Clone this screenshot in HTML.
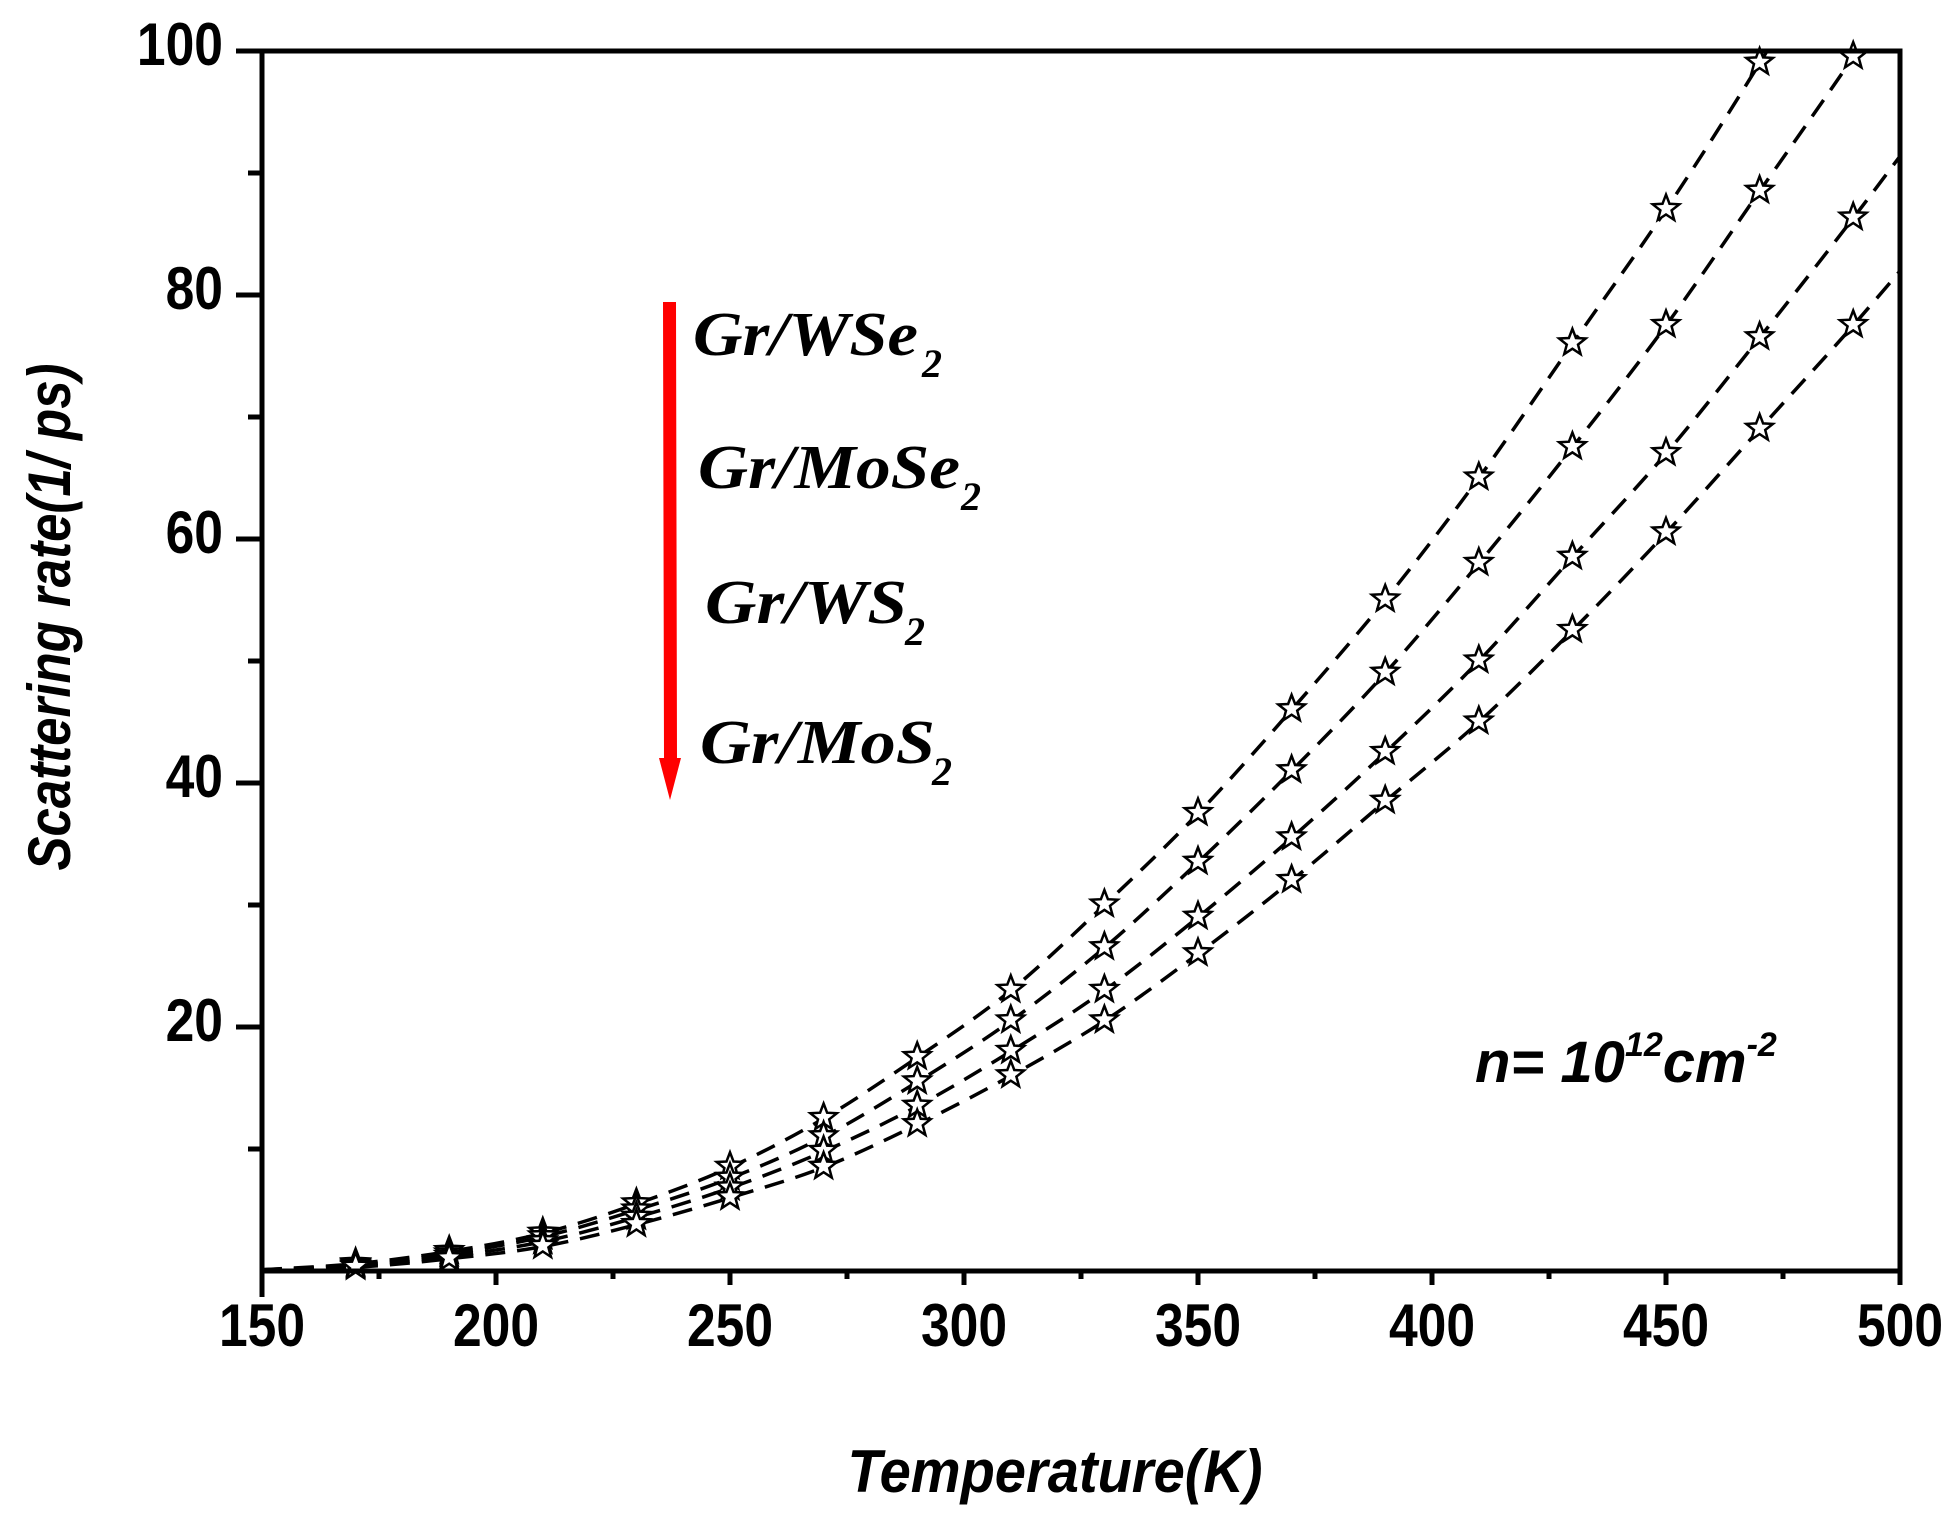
<!DOCTYPE html>
<html><head><meta charset="utf-8"><style>
html,body{margin:0;padding:0;background:#fff;}
svg{display:block;}
</style></head><body>
<svg id="s" width="1959" height="1529" viewBox="0 0 1959 1529" xmlns="http://www.w3.org/2000/svg">
<defs><clipPath id="cp"><rect x="262" y="51" width="1638" height="1220"/></clipPath></defs>
<g id="series" clip-path="url(#cp)"></g>
<g id="marks"></g>
<rect x="262" y="51" width="1638" height="1220" fill="none" stroke="#000" stroke-width="5"/>
<line x1="262" y1="1271" x2="262" y2="1297" stroke="#000" stroke-width="5"/>
<g id="axes" font-family="Liberation Sans, Arial, sans-serif" font-weight="bold" font-size="60"></g>
<text x="1055" y="1492" font-family="Liberation Sans, Arial, sans-serif" font-weight="bold" font-style="italic" font-size="60" text-anchor="middle" textLength="415" lengthAdjust="spacingAndGlyphs">Temperature(K)</text>
<text transform="translate(70,617) rotate(-90)" font-family="Liberation Sans, Arial, sans-serif" font-weight="bold" font-style="italic" font-size="60" text-anchor="middle" textLength="507" lengthAdjust="spacingAndGlyphs">Scattering rate(1/ ps)</text>
<!-- arrow -->
<polygon points="663,302 676,302 677,758 681,758 670,800 659,758 664,758" fill="#ff0000"/>
<g font-family="Liberation Serif, Times New Roman, serif" font-weight="bold" font-style="italic" fill="#000">
<text x="693" y="355" font-size="62" textLength="225" lengthAdjust="spacingAndGlyphs">Gr/WSe</text>
<text x="922" y="377" font-size="40">2</text>
<text x="698" y="488" font-size="62" textLength="262" lengthAdjust="spacingAndGlyphs">Gr/MoSe</text>
<text x="961" y="510" font-size="40">2</text>
<text x="705" y="623" font-size="62" textLength="202" lengthAdjust="spacingAndGlyphs">Gr/WS</text>
<text x="905" y="645" font-size="40">2</text>
<text x="700" y="763" font-size="62" textLength="235" lengthAdjust="spacingAndGlyphs">Gr/MoS</text>
<text x="932" y="785" font-size="40">2</text>
</g>
<text x="1475" y="1082" font-family="Liberation Sans, Arial, sans-serif" font-weight="bold" font-style="italic" font-size="58">n= 10<tspan font-size="34" dy="-26">12</tspan><tspan dy="26">cm</tspan><tspan font-size="34" dy="-26">-2</tspan></text>
</svg>
<script>
var NS="http://www.w3.org/2000/svg";
function X(t){return 262+(t-150)*1638/350;}
function Y(v){return 1271-v*12.2;}
function el(tag,attrs,parent,txt){var e=document.createElementNS(NS,tag);for(var k in attrs)e.setAttribute(k,attrs[k]);if(txt!==undefined)e.textContent=txt;parent.appendChild(e);return e;}
var axes=document.getElementById('axes');
for(var t=150;t<=500;t+=25){var maj=(t%50==0);el('line',{x1:X(t),y1:1271,x2:X(t),y2:maj?1285:1279,stroke:'#000','stroke-width':5},axes);
 if(maj){el('text',{x:X(t),y:1346,'text-anchor':'middle',transform:'translate('+X(t)+',0) scale(0.86,1) translate('+(-X(t))+',0)'},axes,String(t));}}
for(var v=10;v<=100;v+=10){var maj=(v%20==0);el('line',{x1:maj?236:248,y1:Y(v),x2:262,y2:Y(v),stroke:'#000','stroke-width':5},axes);
 if(maj){el('text',{x:223,y:Y(v)+14,'text-anchor':'end',transform:'translate(223,0) scale(0.86,1) translate(-223,0)'},axes,String(v));}}
var T=[150,170,190,210,230,250,270,290,310,330,350,370,390,410,430,450,470,490,510];
var S=[
[0.1,0.6,1.6,3.1,5.5,8.5,12.5,17.5,23,30,37.5,46,55,65,76,87,99,112,126],
[0.1,0.5,1.4,2.8,5.0,7.6,11,15.5,20.5,26.5,33.5,41,49,58,67.5,77.5,88.5,99.5,111],
[0.1,0.4,1.2,2.4,4.4,6.8,9.8,13.5,18,23,29,35.5,42.5,50,58.5,67,76.5,86.3,96.5],
[0.1,0.3,1.0,2.0,3.8,6.0,8.5,12,16,20.5,26,32,38.5,45,52.5,60.5,69,77.5,86.5]];
var sg=document.getElementById('series'),mg=document.getElementById('marks');
function starPts(cx,cy,R){var r=R*0.42,p=[];for(var i=0;i<10;i++){var a=-Math.PI/2+i*Math.PI/5,rr=(i%2)?r:R;p.push((cx+rr*Math.cos(a)).toFixed(1)+','+(cy+rr*Math.sin(a)).toFixed(1));}return p.join(' ');}
S.forEach(function(s){
 var pts=T.map(function(t,i){return [X(t),Y(s[i])];});
 var d='M'+pts[0][0]+','+pts[0][1];
 for(var i=0;i<pts.length-1;i++){var p0=pts[Math.max(0,i-1)],p1=pts[i],p2=pts[i+1],p3=pts[Math.min(pts.length-1,i+2)];
  var c1=[p1[0]+(p2[0]-p0[0])/6,p1[1]+(p2[1]-p0[1])/6],c2=[p2[0]-(p3[0]-p1[0])/6,p2[1]-(p3[1]-p1[1])/6];
  d+=' C'+c1[0].toFixed(1)+','+c1[1].toFixed(1)+' '+c2[0].toFixed(1)+','+c2[1].toFixed(1)+' '+p2[0].toFixed(1)+','+p2[1].toFixed(1);}
 el('path',{d:d,fill:'none',stroke:'#000','stroke-width':3.5,'stroke-dasharray':'20,12'},sg);
 for(var i=1;i<T.length-1;i++){if(s[i]>101)continue;el('polygon',{points:starPts(X(T[i]),Y(s[i])-1,14),fill:'#fff',stroke:'#000','stroke-width':2.5},mg);}
});
</script>
</body></html>
